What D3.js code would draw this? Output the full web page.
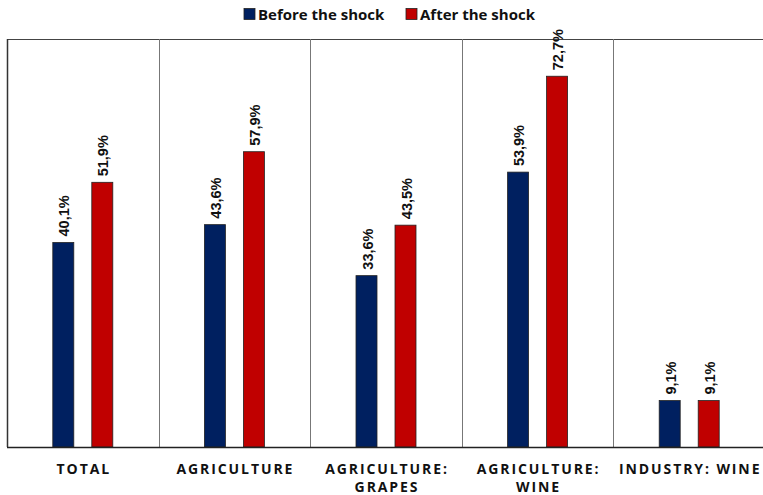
<!DOCTYPE html>
<html>
<head>
<meta charset="utf-8">
<script src="https://cdn.jsdelivr.net/npm/d3@7"></script>
<style>
  body { margin: 0; background: #fff; }
  text { font-family: "Open Sans", "Noto Sans", sans-serif; font-weight: bold; fill: #111; }
  text.val { font-family: "Liberation Sans", Arial, sans-serif; }
</style>
</head>
<body>
<div id="chart"></div>
<script>
// chart data
var categories = [["TOTAL"], ["AGRICULTURE"], ["AGRICULTURE:", "GRAPES"], ["AGRICULTURE:", "WINE"], ["INDUSTRY: WINE"]];
var seriesNames = ["Before the shock", "After the shock"];
var beforeValues = [40.1, 43.6, 33.6, 53.9, 9.1];
var afterValues = [51.9, 57.9, 43.5, 72.7, 9.1];
var colors = ["#002060", "#C00000"];

var width = 763, height = 495;
var margin = {top: 39, left: 7, bottom: 48, right: -2};

var svg = d3.select("#chart").append("svg")
  .attr("width", width)
  .attr("height", height);

var x = d3.scaleBand()
  .domain(d3.range(categories.length))
  .range([margin.left, width - margin.right]);

var y = d3.scaleLinear()
  .domain([0, 80])
  .range([height - margin.bottom, margin.top]);

var barW = 21, gap = 18;

// frame: top and left border, band separators
svg.append("line")
  .attr("x1", margin.left).attr("x2", width)
  .attr("y1", margin.top + 0.5).attr("y2", margin.top + 0.5)
  .style("stroke", "#444").style("stroke-width", 1.2);

svg.selectAll("line.sep")
  .data(d3.range(categories.length))
  .enter().append("line")
  .attr("class", "sep")
  .attr("x1", function(d) { return Math.round(x(d)) + 0.5; })
  .attr("x2", function(d) { return Math.round(x(d)) + 0.5; })
  .attr("y1", margin.top)
  .attr("y2", y(0))
  .style("stroke", function(d) { return d === 0 ? "#333" : "#777"; })
  .style("stroke-width", function(d) { return d === 0 ? 1.5 : 1; });

// bars
var series = [beforeValues, afterValues];
series.forEach(function(vals, s) {
  var offset = s === 0 ? -gap / 2 - barW : gap / 2;
  var g = svg.append("g");
  g.selectAll("rect")
    .data(vals)
    .enter().append("rect")
    .attr("x", function(d, i) { return x(i) + x.bandwidth() / 2 + offset; })
    .attr("y", function(d) { return y(d); })
    .attr("width", barW)
    .attr("height", function(d) { return y(0) - y(d); })
    .style("fill", colors[s])
    .style("stroke", "#222")
    .style("stroke-width", 0.8);

  g.selectAll("text")
    .data(vals)
    .enter().append("text")
    .attr("class", "val")
    .attr("transform", function(d, i) {
      var cx = x(i) + x.bandwidth() / 2 + offset + barW / 2;
      return "translate(" + (cx + 6) + "," + (y(d) - 6) + ") rotate(-90)";
    })
    .style("font-size", "14.5px")
    .text(function(d) { return d.toFixed(1).replace(".", ",") + "%"; });
});

// baseline
svg.append("line")
  .attr("x1", margin.left).attr("x2", width)
  .attr("y1", y(0) + 0.5).attr("y2", y(0) + 0.5)
  .style("stroke", "#222").style("stroke-width", 1.5);

// category labels
svg.selectAll("text.cat")
  .data(categories)
  .enter().append("text")
  .attr("class", "cat")
  .attr("x", function(d, i) { return x(i) + x.bandwidth() / 2 + 1; })
  .attr("y", 474)
  .attr("text-anchor", "middle")
  .style("font-size", "14px")
  .style("letter-spacing", "1.9px")
  .each(function(d) {
    var t = d3.select(this);
    d.forEach(function(line, j) {
      t.append("tspan")
        .attr("x", t.attr("x"))
        .attr("dy", j === 0 ? 0 : 17.5)
        .text(line);
    });
  });

// legend
var legendX = [244, 406];
var legend = svg.selectAll("g.legend")
  .data(seriesNames)
  .enter().append("g")
  .attr("class", "legend")
  .attr("transform", function(d, i) { return "translate(" + legendX[i] + ",8.5)"; });

legend.append("rect")
  .attr("width", 11).attr("height", 11)
  .style("fill", function(d, i) { return colors[i]; })
  .style("stroke", "#222").style("stroke-width", 0.8);

legend.append("text")
  .attr("x", 14).attr("y", 11)
  .style("font-size", "15px")
  .text(function(d) { return d; });
</script>
</body>
</html>
